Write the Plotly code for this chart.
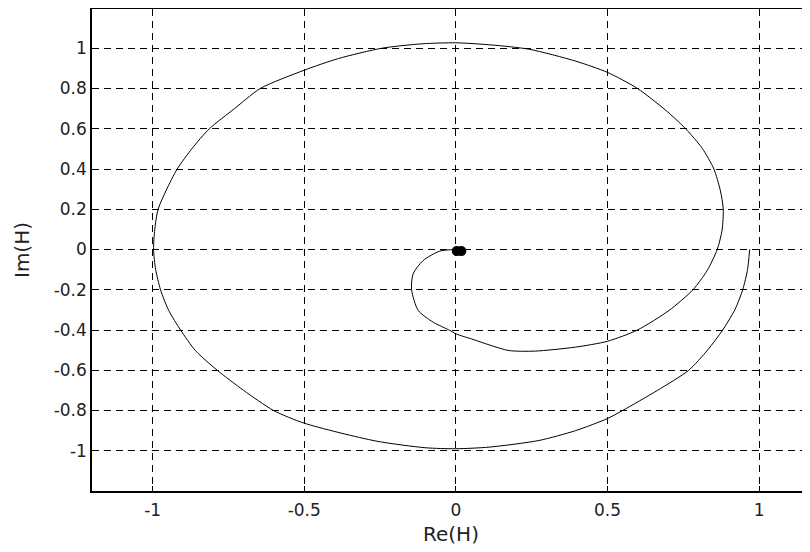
import plotly.graph_objects as go

# Nyquist curve points (Re(H), Im(H))
re_h = [0.969, 0.962, 0.946, 0.92, 0.88, 0.83, 0.768, 0.665, 0.55, 0.5, 0.395, 0.274, 0.11, 0.0,
        -0.101, -0.266, -0.5, -0.601, -0.70, -0.787, -0.859, -0.908, -0.947, -0.974, -0.99, -0.997,
        -0.993, -0.982, -0.955, -0.919, -0.87, -0.813, -0.73, -0.645, -0.5, -0.387, -0.244, -0.112, 0.0,
        0.12, 0.242, 0.395, 0.5, 0.599, 0.692, 0.758, 0.813, 0.851, 0.872, 0.882, 0.878, 0.862,
        0.829, 0.782, 0.703, 0.599, 0.5, 0.395, 0.26, 0.175, 0.11, 0.057, 0.0, -0.02, -0.075, -0.124,
        -0.146, -0.141, -0.108, -0.053, 0.0]
im_h = [0.0, -0.10, -0.2, -0.3, -0.4, -0.5, -0.6, -0.70, -0.8, -0.84, -0.90, -0.949, -0.982, -0.99,
        -0.985, -0.951, -0.863, -0.8, -0.70, -0.6, -0.502, -0.4, -0.303, -0.2, -0.1, 0.0,
        0.1, 0.2, 0.295, 0.4, 0.502, 0.6, 0.70, 0.8, 0.891, 0.949, 1.0, 1.022, 1.027,
        1.016, 0.995, 0.936, 0.88, 0.8, 0.692, 0.6, 0.502, 0.4, 0.295, 0.2, 0.096, 0.0,
        -0.104, -0.2, -0.303, -0.4, -0.456, -0.485, -0.505, -0.502, -0.474, -0.447, -0.419, -0.402, -0.361, -0.303,
        -0.2, -0.121, -0.055, -0.008, 0.0]

# End point blob at the origin
end_re = [0.003, 0.018]
end_im = [-0.008, -0.008]

x_ticks = [-1, -0.5, 0, 0.5, 1]
x_labels = ["-1", "-0.5", "0", "0.5", "1"]
y_ticks = [-1, -0.8, -0.6, -0.4, -0.2, 0, 0.2, 0.4, 0.6, 0.8, 1]
y_labels = ["-1", "-0.8", "-0.6", "-0.4", "-0.2", "0", "0.2", "0.4", "0.6", "0.8", "1"]

fig = go.Figure()
fig.add_trace(go.Scatter(x=re_h, y=im_h, mode="lines",
                         line=dict(color="black", width=1, shape="spline", smoothing=0.7),
                         showlegend=False, hoverinfo="skip"))
fig.add_trace(go.Scatter(x=end_re, y=end_im, mode="markers",
                         marker=dict(color="black", size=10, line=dict(width=0)),
                         showlegend=False, hoverinfo="skip"))

font = dict(family="DejaVu Sans, Liberation Sans, sans-serif", size=17, color="#222222")
# The page body has an 8px margin, so the figure is sized/offset to compensate.
fig.update_layout(
    width=802, height=544,
    margin=dict(l=84, r=0, t=1, b=61),
    paper_bgcolor="white", plot_bgcolor="white",
    font=font,
    xaxis=dict(range=[-1.2, 1.168], tickvals=x_ticks, ticktext=x_labels,
               showgrid=True, gridcolor="black", gridwidth=1, griddash="7px,5px",
               zeroline=False, showline=True, linecolor="black", linewidth=1.5,
               mirror=True, ticks="inside", ticklen=5, tickcolor="black",
               automargin=False, ticklabelstandoff=3,
               title=dict(text="Re(H)", standoff=8), tickfont=font),
    yaxis=dict(range=[-1.2, 1.195], tickvals=y_ticks, ticktext=y_labels,
               showgrid=True, gridcolor="black", gridwidth=1, griddash="7px,5px",
               zeroline=False, showline=True, linecolor="black", linewidth=1.5,
               mirror=False, ticks="inside", ticklen=5, tickcolor="black",
               automargin=False,
               title=dict(text="Im(H)", standoff=19), tickfont=font),
)

fig.write_html("out.html")
